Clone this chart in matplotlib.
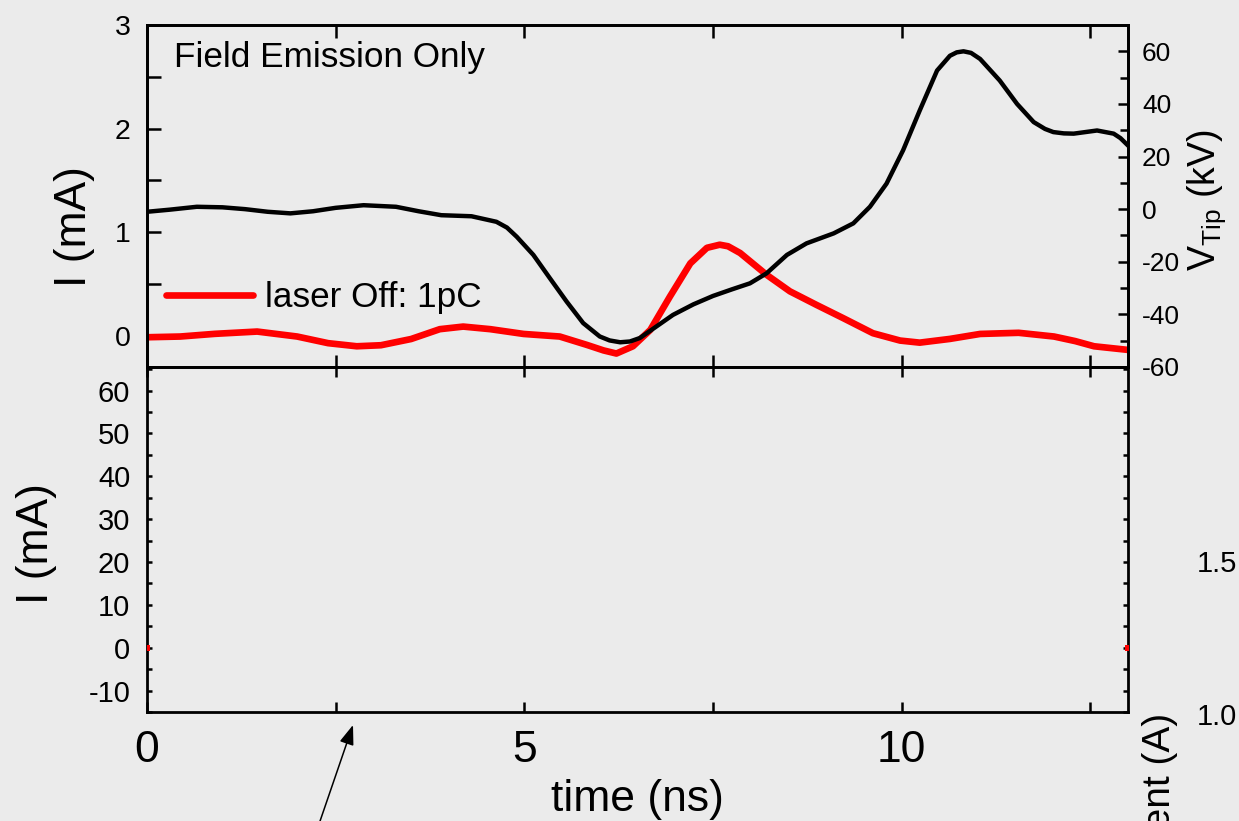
import numpy as np
import matplotlib
matplotlib.use("Agg")
import matplotlib.pyplot as plt

plt.rcParams['font.family'] = ['Liberation Sans', 'DejaVu Sans']
plt.rcParams['mathtext.fontset'] = 'custom'
plt.rcParams['mathtext.rm'] = 'Liberation Sans'
plt.rcParams['mathtext.it'] = 'Liberation Sans:italic'
plt.rcParams['axes.unicode_minus'] = False

# ---- data -------------------------------------------------------------
# tip voltage (kV) versus time (ns)
t_tip = [0.0, 0.3, 0.66, 1.0, 1.3, 1.6, 1.9, 2.2, 2.5, 2.87, 3.3, 3.6, 3.9,
         4.3, 4.63, 4.77, 4.9, 5.12, 5.34, 5.56, 5.78, 6.0, 6.13, 6.27, 6.4,
         6.53, 6.75, 6.97, 7.24, 7.5, 7.75, 7.99, 8.21, 8.48, 8.74, 9.1, 9.36,
         9.58, 9.8, 10.02, 10.24, 10.47, 10.64, 10.73, 10.82, 10.92, 11.04,
         11.3, 11.53, 11.75, 11.9, 12.01, 12.15, 12.28, 12.59, 12.81, 12.9,
         13.0]
v_tip = [-1.0, -0.2, 0.9, 0.7, 0.0, -1.0, -1.6, -0.8, 0.5, 1.5, 0.9, -0.8, -2.3,
         -2.7, -4.8, -7.0, -10.5, -17.4, -26.3, -35.1, -43.3, -48.4, -49.9,
         -50.6, -50.3, -49.0, -44.6, -40.2, -36.2, -33.0, -30.5, -28.2, -24.4,
         -17.4, -13.0, -9.2, -5.4, 0.9, 9.7, 22.4, 37.5, 52.7, 58.3, 59.6, 60.0,
         59.4, 57.1, 48.9, 40.0, 33.1, 30.5, 29.3, 28.8, 28.7, 29.9, 28.7, 27.0,
         24.2]

# emitted current (mA), laser off
t_cur = [0.0, 0.44, 0.9, 1.46, 1.99, 2.4, 2.78, 3.1, 3.5, 3.88, 4.19, 4.55,
         4.99, 5.47, 5.83, 6.05, 6.22, 6.44, 6.67, 6.93, 7.2, 7.42, 7.59, 7.7,
         7.86, 8.21, 8.52, 8.87, 9.23, 9.62, 9.98, 10.24, 10.64, 11.04, 11.55,
         12.02, 12.3, 12.55, 13.0]
i_cur = [-0.013, -0.006, 0.02, 0.042, -0.006, -0.07, -0.10, -0.09, -0.03,
         0.065, 0.09, 0.065, 0.019, -0.006, -0.087, -0.14, -0.17, -0.10, 0.058,
         0.38, 0.70, 0.85, 0.88, 0.865, 0.80, 0.59, 0.43, 0.30, 0.17, 0.026,
         -0.045, -0.065, -0.029, 0.019, 0.03, -0.006, -0.05, -0.10, -0.135]

# lower panel: current trace only registers at the window edges
t_low = [0.0, 13.0]
i_low = [0.0, 0.0]

x_major = [0, 2.5, 5, 7.5, 10, 12.5]
x_labels = ['0', '', '5', '', '10', '']
legend_label = 'laser Off: 1pC'

# ---- figure -----------------------------------------------------------
W, H = 1239, 821
bg = '#ebebeb'
fig = plt.figure(figsize=(W / 100, H / 100), dpi=100, facecolor=bg)

ax_top = fig.add_axes([147 / W, 1 - 367 / H, 981 / W, 342 / H], facecolor=bg)
ax_bot = fig.add_axes([147 / W, 1 - 712 / H, 981 / W, 345 / H], facecolor=bg)
ax_v = ax_top.twinx()

for ax in (ax_top, ax_bot, ax_v):
    for s in ax.spines.values():
        s.set_linewidth(2.0)

# upper panel
red_line, = ax_top.plot(t_cur, i_cur, color='red', lw=4.8,
                        solid_capstyle='round', solid_joinstyle='round',
                        label=legend_label)
ax_v.plot(t_tip, v_tip, color='black', lw=3.2, solid_joinstyle='round')

ax_top.set_xlim(0, 13)
ax_top.set_ylim(-0.3, 3.0)
ax_top.set_xticks(x_major)
ax_top.set_xticklabels([])
ax_top.set_yticks([0, 1, 2, 3])
ax_top.set_yticks(np.arange(0.0, 3.01, 0.5), minor=True)
ax_top.tick_params(axis='x', which='both', direction='in', top=True,
                   bottom=True, length=9, width=1.8)
ax_top.tick_params(axis='y', which='both', direction='in', left=True,
                   right=False, length=10, width=1.8)
ax_top.tick_params(axis='y', which='major', labelsize=20.5, pad=12)
ax_top.set_ylabel('I (mA)', fontsize=32)
ax_top.yaxis.set_label_coords(-0.053, 0.412)

ax_v.set_ylim(-60, 70)
ax_v.set_yticks(np.arange(-60, 61, 20))
ax_v.set_yticks(np.arange(-60, 70, 10), minor=True)
ax_v.tick_params(axis='y', which='major', direction='in', length=7,
                 width=1.8, labelsize=19, pad=10)
ax_v.tick_params(axis='y', which='minor', direction='in', length=6,
                 width=1.8)
ax_v.set_ylabel(r'V$_{\mathrm{Tip}}$ (kV)', fontsize=27, rotation=90)
ax_v.yaxis.set_label_coords(1.058, 0.488)

ax_top.text(0.0275, 0.877, 'Field Emission Only', transform=ax_top.transAxes,
            fontsize=25.3, va='baseline', ha='left')
ax_top.legend(handles=[red_line], loc='center left',
              bbox_to_anchor=(0.019, 0.202), frameon=False, fontsize=25.3,
              handlelength=2.5, handletextpad=0.33, borderpad=0,
              borderaxespad=0)

# lower panel
ax_bot.plot(t_low, i_low, ls='none', marker='s', ms=5, mew=0, color='red',
            clip_on=True, zorder=3)
ax_bot.set_xlim(0, 13)
ax_bot.set_ylim(-15, 65.5)
ax_bot.set_xticks(x_major)
ax_bot.set_xticklabels(x_labels)
ax_bot.set_yticks(np.arange(-10, 61, 10))
ax_bot.set_yticks(np.arange(-15, 66, 5), minor=True)
ax_bot.tick_params(axis='x', which='both', direction='in', top=True,
                   bottom=True, length=7, width=1.8, labelsize=32, pad=13)
ax_bot.tick_params(axis='y', which='both', direction='in', left=True,
                   right=True, length=3.5, width=1.8, labelsize=21, pad=12)
ax_bot.set_xlabel('time (ns)', fontsize=32, labelpad=6)
ax_bot.set_ylabel('I (mA)', fontsize=32)
ax_bot.yaxis.set_label_coords(-0.092, 0.487)

# neighbouring current scale at the right edge
fig.text(1197 / W, 1 - 564 / H, '1.5', fontsize=21, ha='left', va='center')
fig.text(1197 / W, 1 - 717 / H, '1.0', fontsize=21, ha='left', va='center')
fig.text(1160 / W, 1 - 713 / H, 'Current (A)', fontsize=28, rotation=90,
         ha='center', va='top')

# pointer arrow
ax_bot.annotate('', xy=(353, H - 725), xycoords='figure pixels',
                xytext=(318, -6), textcoords='figure pixels',
                annotation_clip=False,
                arrowprops=dict(arrowstyle='-|>,head_length=0.6,head_width=0.22',
                                mutation_scale=20, lw=1.1, color='black',
                                shrinkA=0, shrinkB=0))

fig.savefig('out.png', dpi=100, facecolor=bg)
